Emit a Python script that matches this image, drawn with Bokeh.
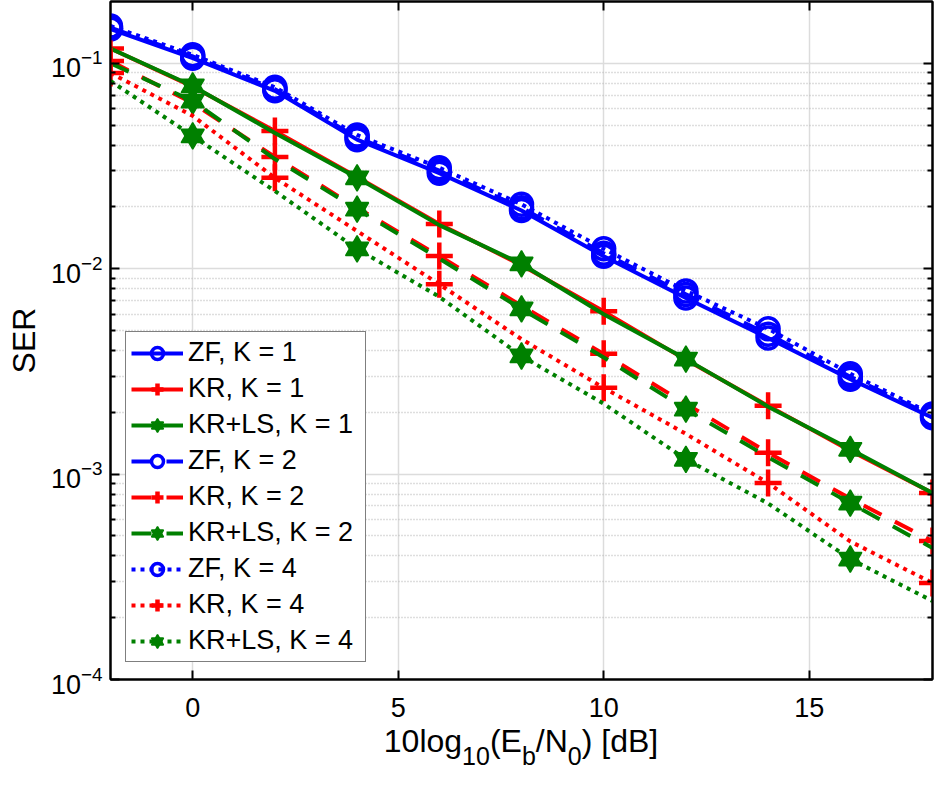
from bokeh.plotting import figure
from bokeh.models import (ColumnDataSource, FixedTicker, Legend, LegendItem, Div,
                          LinearAxis, LogAxis, Range1d)
from bokeh.layouts import column
from bokeh.embed import file_html
from bokeh.resources import INLINE

# ---------------- data ----------------
snr_db = [-2, 0, 2, 4, 6, 8, 10, 12, 14, 16, 18]

zf_k1 = [0.147, 0.106, 0.0735, 0.0425, 0.0292, 0.0192, 0.0115, 0.0072, 0.0046, 0.0029, 0.00188]
zf_k2 = [0.149, 0.108, 0.0748, 0.0435, 0.0300, 0.0198, 0.0119, 0.0075, 0.0048, 0.00298, 0.00192]
zf_k4 = [0.152, 0.110, 0.0765, 0.0448, 0.0310, 0.0206, 0.0125, 0.0078, 0.0051, 0.00308, 0.00196]

kr_k1 = [0.118, 0.077, 0.0468, 0.0280, 0.0165, 0.0104, 0.0062, 0.0036, 0.00215, 0.00130, 0.00081]
kr_k2 = [0.1026, 0.064, 0.0350, 0.0198, 0.01153, 0.0066, 0.00385, 0.0022, 0.00127, 0.00076, 0.000472]
kr_k4 = [0.0897, 0.0555, 0.0277, 0.01525, 0.0084, 0.00454, 0.00263, 0.00157, 0.000905, 0.00047, 0.000295]

krls_k1 = [0.118, 0.0776, 0.0458, 0.0277, 0.0163, 0.01055, 0.0060, 0.00363, 0.00213, 0.00132, 0.00081]
krls_k2 = [0.100, 0.0655, 0.0342, 0.0195, 0.0112, 0.00637, 0.0037, 0.00207, 0.00121, 0.000722, 0.000437]
krls_k4 = [0.082, 0.0443, 0.0239, 0.01248, 0.0073, 0.00376, 0.0022, 0.00118, 0.00072, 0.000386, 0.000241]

labels = ["ZF, K = 1", "KR, K = 1", "KR+LS, K = 1",
          "ZF, K = 2", "KR, K = 2", "KR+LS, K = 2",
          "ZF, K = 4", "KR, K = 4", "KR+LS, K = 4"]

x_ticks = [0, 5, 10, 15]
y_ticks = [1e-4, 1e-3, 1e-2, 1e-1]
y_minor = [k * 10.0 ** e for e in (-4, -3, -2, -1) for k in range(2, 10) if k * 10.0 ** e < 0.2]

# ---------------- style ----------------
FONT = "Liberation Sans"
BLUE, RED, GREEN = "#0000ff", "#ff0000", "#008000"
LW = 4
DASH = {"1": "solid", "2": "20 15", "4": "4 5"}

p = figure(width=942, height=724, y_axis_type="log",
           x_range=Range1d(-2, 18), y_range=Range1d(1e-4, 0.2),
           output_backend="svg", toolbar_location=None,
           min_border_left=110, min_border_right=10, min_border_top=1, min_border_bottom=45)
p.background_fill_color = "white"
p.border_fill_color = "white"
p.outline_line_color = "black"
p.outline_line_width = 2

# grids
p.xgrid.ticker = FixedTicker(ticks=x_ticks)
p.xgrid.grid_line_color = "#dcdcdc"
p.xgrid.grid_line_width = 1.5
p.ygrid.grid_line_color = "#dcdcdc"
p.ygrid.grid_line_width = 1.5
p.ygrid.minor_grid_line_color = "#bdbdbd"
p.ygrid.minor_grid_line_width = 1.5
p.ygrid.minor_grid_line_dash = "1 2"

# axes
xt = FixedTicker(ticks=x_ticks, minor_ticks=[])
yt = FixedTicker(ticks=y_ticks, minor_ticks=y_minor)
p.xaxis.ticker = xt
p.yaxis.ticker = yt
p.ygrid.ticker = yt
for ax in (p.xaxis[0], p.yaxis[0]):
    ax.axis_line_width = 2
    ax.axis_line_color = "black"
    ax.major_tick_line_width = 2
    ax.minor_tick_line_width = 2
    ax.major_tick_in = 9
    ax.major_tick_out = 0
    ax.major_label_text_font = FONT
    ax.major_label_text_color = "black"
p.xaxis.minor_tick_in = 0
p.xaxis.minor_tick_out = 0
p.yaxis.minor_tick_in = 5
p.yaxis.minor_tick_out = 0
p.xaxis.major_label_text_font_size = "27px"
p.xaxis.major_label_standoff = 18
p.yaxis.major_label_text_font_size = "27px"
p.yaxis.major_label_standoff = 8

p.yaxis.axis_label = "SER"
p.yaxis.axis_label_text_font = FONT
p.yaxis.axis_label_text_font_size = "32px"
p.yaxis.axis_label_text_font_style = "normal"
p.yaxis.axis_label_text_color = "black"
p.yaxis.axis_label_standoff = 6

top_ax = LinearAxis(ticker=xt, major_label_text_font_size="1px", major_label_text_color=None,
                    major_label_standoff=0,
                    major_tick_in=9, major_tick_out=0, minor_tick_in=0, minor_tick_out=0,
                    axis_line_width=2, major_tick_line_width=2)
p.add_layout(top_ax, "above")
right_ax = LogAxis(ticker=yt, major_label_text_font_size="1px", major_label_text_color=None,
                   major_label_standoff=0,
                   major_tick_in=9, major_tick_out=0, minor_tick_in=5, minor_tick_out=0,
                   axis_line_width=2, major_tick_line_width=2, minor_tick_line_width=2)
p.add_layout(right_ax, "right")

# ---------------- series ----------------
def sub(vals, idx):
    return ColumnDataSource(dict(x=[snr_db[i] for i in idx], y=[vals[i] for i in idx]))

all_idx = list(range(len(snr_db)))
red_idx = all_idx[0::2]
green_idx = all_idx[1::2]

items = []
series = [("ZF", "1", zf_k1), ("KR", "1", kr_k1), ("KRLS", "1", krls_k1),
          ("ZF", "2", zf_k2), ("KR", "2", kr_k2), ("KRLS", "2", krls_k2),
          ("ZF", "4", zf_k4), ("KR", "4", kr_k4), ("KRLS", "4", krls_k4)]
for (kind, k, vals), lab in zip(series, labels):
    color = {"ZF": BLUE, "KR": RED, "KRLS": GREEN}[kind]
    src = ColumnDataSource(dict(x=snr_db, y=vals))
    rl = p.line("x", "y", source=src, line_color=color, line_width=LW, line_dash=DASH[k])
    rends = [rl]
    if kind == "ZF":
        rends.append(p.scatter("x", "y", source=sub(vals, all_idx), marker="circle", size=22,
                               line_color=color, line_width=3.5, fill_color=None))
    elif kind == "KR":
        rends.append(p.scatter("x", "y", source=sub(vals, red_idx), marker="cross", size=27,
                               line_color=color, line_width=4.5))
    else:
        ms = sub(vals, green_idx)
        rends.append(p.scatter("x", "y", source=ms, marker="triangle", size=23,
                               line_color=color, line_width=1.5, fill_color=color))
        rends.append(p.scatter("x", "y", source=ms, marker="inverted_triangle", size=23,
                               line_color=color, line_width=1.5, fill_color=color))
    items.append(LegendItem(label=lab, renderers=rends))

legend = Legend(items=items, location=(15, 17), margin=0, padding=5, spacing=5,
                glyph_width=52, glyph_height=30, label_height=30, label_width=172,
                label_standoff=5, label_text_font=FONT, label_text_font_size="27px",
                label_text_color="black", border_line_color="black", border_line_width=1.5,
                background_fill_color="white", background_fill_alpha=1.0)
p.add_layout(legend)

# ---------------- x axis label with subscripts ----------------
SUBS = 'style="font-size:25px; vertical-align:-13px"'
xlabel_html = (f'10log<span {SUBS}>10</span>(E<span {SUBS}>b</span>/N'
               f'<span {SUBS}>0</span>) [dB]')
xlabel = Div(text=xlabel_html, width=822, height=56, margin=(0, 0, 0, 110),
             styles={"font-family": "Liberation Sans", "font-size": "32px",
                     "text-align": "center", "color": "black", "line-height": "34px"})

layout = column(p, xlabel, spacing=0)
open("out.html", "w").write(file_html(layout, INLINE))
